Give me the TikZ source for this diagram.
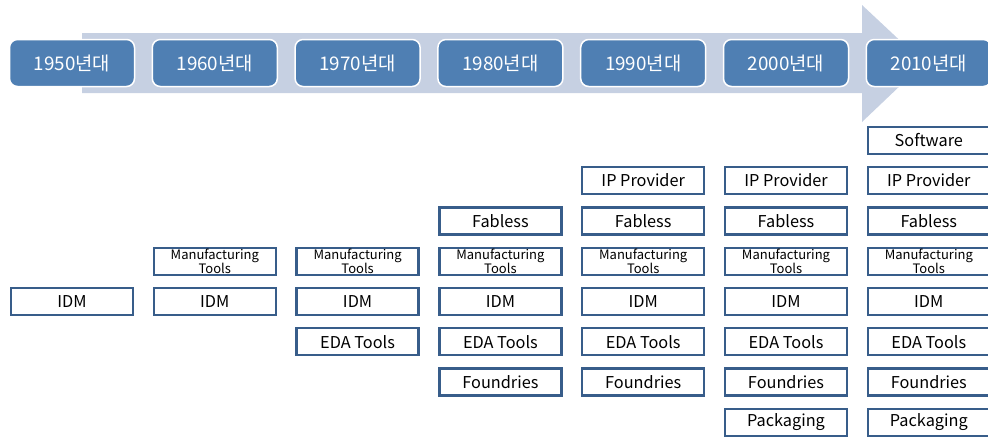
\documentclass[tikz,border=0pt]{standalone}
\usepackage{fontspec}
\setmainfont{Noto Sans CJK KR}
\usetikzlibrary{positioning}

\definecolor{bandblue}{HTML}{C6D0E2}
\definecolor{decadeblue}{HTML}{4F7FB3}
\definecolor{edgeblue}{HTML}{385D8A}

\tikzset{
  decade/.style={draw=white, line width=1.5pt, fill=decadeblue, rounded corners=8pt,
    minimum width=125pt, minimum height=47pt, inner sep=0pt, text=white,
    font=\fontsize{18.8}{20}\selectfont},
  layer/.style={draw=edgeblue, line width=2.3pt, fill=white, minimum width=122pt,
    minimum height=27pt, inner sep=0pt, align=center, font=\fontsize{16.3}{17}\selectfont},
  smalllayer/.style={layer, font=\fontsize{13}{10.5}\selectfont}
}

\begin{document}
\begin{tikzpicture}[x=1pt, y=-1pt]
\useasboundingbox (0,0) rectangle (988,437);

% time arrow behind the decades
\fill[bandblue] (82,33) -- (862,33) -- (862,5) -- (924,63) -- (862,122) -- (862,93) -- (82,93) -- cycle;

% decades
\foreach \c/\yr in {0/1950, 1/1960, 2/1970, 3/1980, 4/1990, 5/2000, 6/2010}
  \node[decade] (d\yr) at (72+142.8*\c, 63) {\yr{}년대};

% industry layers: row / first column / label
\foreach \r/\first/\name in {1/6/Software, 2/4/IP Provider, 3/3/Fabless, 5/0/IDM,
    6/2/EDA Tools, 7/3/Foundries, 8/5/Packaging}
  \foreach \c in {\first,...,6}
    \node[layer] (l\r-\c) at (72+142.8*\c, 100+40.3*\r) {\name};

\foreach \c in {1,...,6}
  \node[smalllayer] (l4-\c) at (72+142.8*\c, 100+40.3*4) {Manufacturing\\Tools};

\end{tikzpicture}
\end{document}
